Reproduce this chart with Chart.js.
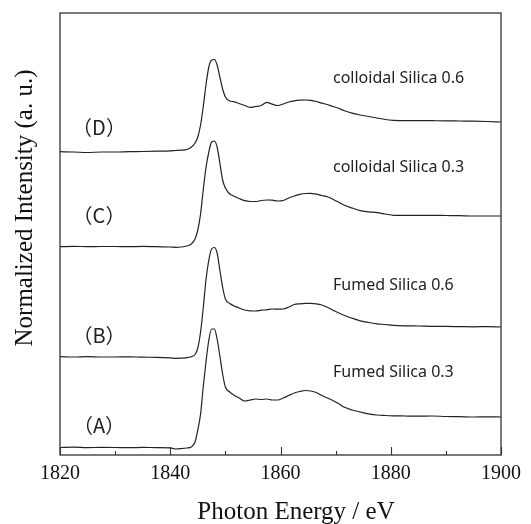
<!DOCTYPE html>
<html>
<head>
<meta charset="utf-8">
<script src="https://cdn.jsdelivr.net/npm/chart.js@4/dist/chart.umd.min.js"></script>
<style>
    body { margin: 0; background: #fff; }
    #wrap { width: 531px; height: 524px; }
</style>
</head>
<body>
<div id="wrap"><canvas id="xanesChart" width="531" height="524"></canvas></div>
<script>
// 光子能量 (eV)
const energy = [1820, 1822.5, 1825, 1827.5, 1830, 1832.5, 1835, 1837.5, 1840,
    1841, 1842, 1843, 1843.8, 1844.5, 1845,
    1845.5, 1846, 1846.5, 1847, 1847.5, 1848, 1848.5, 1849, 1849.5, 1850,
    1850.8, 1851.5, 1852.5, 1853.5, 1854.5, 1855.5, 1856.5, 1857.5, 1858.5, 1859.5,
    1860.5, 1861.5, 1862.5, 1863.5, 1864.5, 1865.5, 1866.5, 1867.5, 1868.5, 1869.5,
    1870.5, 1871.5, 1873, 1874.5, 1876, 1877.5, 1879, 1880.5, 1882.5, 1885,
    1887.5, 1890, 1892.5, 1895, 1897.5, 1900];

// 各样品强度 (已按图中偏移叠放, a.u.)
const fumed03 = [0.75, 0.78, 0.74, 0.76, 0.75, 0.73, 0.76, 0.74, 0.72,
    0.6, 0.64, 0.7, 0.8, 1.3, 2.5,
    4.1, 6.9, 9.4, 11.5, 12.6, 12.6, 11.6, 9.9, 8.1, 6.8,
    6.3, 6.0, 5.7, 5.4, 5.5, 5.6, 5.55, 5.6, 5.5, 5.5,
    5.7, 5.95, 6.2, 6.35, 6.45, 6.4, 6.25, 5.95, 5.7, 5.45,
    5.15, 4.8, 4.5, 4.3, 4.12, 4.0, 3.95, 3.92, 3.9, 3.88,
    3.9, 3.85, 3.83, 3.8, 3.82, 3.8];

const fumed06 = [9.83, 9.8, 9.84, 9.8, 9.8, 9.82, 9.78, 9.77, 9.72,
    9.67, 9.68, 9.74, 9.83, 10.05, 10.7,
    12.3, 14.8, 17.6, 19.5, 20.6, 20.75, 20.2, 18.5, 16.8, 15.6,
    15.15, 14.93, 14.7, 14.5, 14.42, 14.4, 14.48, 14.52, 14.6, 14.58,
    14.6, 14.8, 15.05, 15.12, 15.16, 15.17, 15.12, 15.0, 14.78, 14.48,
    14.22, 13.98, 13.68, 13.42, 13.25, 13.12, 13.05, 12.97, 12.92, 12.9,
    12.87, 12.86, 12.84, 12.82, 12.84, 12.8];

const colloidal03 = [20.83, 20.86, 20.84, 20.85, 20.85, 20.83, 20.86, 20.83, 20.8,
    20.77, 20.8, 20.9, 21.1, 21.6, 22.5,
    24.1, 26.6, 28.8, 30.3, 31.3, 31.4, 30.8, 29.2, 27.5, 26.7,
    26.1, 25.9, 25.65, 25.43, 25.35, 25.35, 25.45, 25.5, 25.48, 25.4,
    25.45, 25.7, 25.9, 26.07, 26.15, 26.17, 26.08, 25.95, 25.82, 25.58,
    25.3, 25.0, 24.7, 24.43, 24.32, 24.23, 24.1, 23.97, 23.97, 23.96,
    23.97, 23.95, 23.93, 23.9, 23.9, 23.9];

const colloidal06 = [30.33, 30.3, 30.25, 30.3, 30.3, 30.33, 30.35, 30.38, 30.42,
    30.45, 30.48, 30.55, 30.77, 31.2, 31.8,
    33.0, 34.9, 37.1, 38.8, 39.5, 39.55, 39.0, 37.8, 36.6, 35.8,
    35.4, 35.33, 35.15, 34.95, 34.77, 34.85, 34.95, 35.27, 35.08, 34.95,
    35.1, 35.3, 35.42, 35.48, 35.5, 35.47, 35.35, 35.18, 35.05, 34.85,
    34.68, 34.45, 34.18, 34.0, 33.85, 33.7, 33.55, 33.47, 33.43, 33.44,
    33.43, 33.42, 33.4, 33.38, 33.35, 33.3];

const seriesNames = ['Fumed Silica 0.3', 'Fumed Silica 0.6', 'colloidal Silica 0.3', 'colloidal Silica 0.6'];
const seriesTags = ['（A）', '（B）', '（C）', '（D）'];
const xTicks = [1820, 1840, 1860, 1880, 1900];

function toPoints(values) {
    return values.map((v, i) => ({ x: energy[i], y: v }));
}

// 图框、内向刻度、注释文字和坐标轴标题
const decorPlugin = {
    id: 'decor',
    afterDraw(chart) {
        const ctx = chart.ctx;
        const area = chart.chartArea;
        const xs = chart.scales.x;
        ctx.save();
        ctx.strokeStyle = '#333';
        ctx.lineWidth = 1.3;
        ctx.strokeRect(area.left, area.top, area.right - area.left, area.bottom - area.top);

        // 主刻度和次刻度
        ctx.lineWidth = 1.1;
        for (let v = 1820; v <= 1900; v += 10) {
            const px = Math.round(xs.getPixelForValue(v)) + 0.5;
            const len = (v % 20 === 0) ? 8 : 4;
            ctx.beginPath();
            ctx.moveTo(px, area.bottom);
            ctx.lineTo(px, area.bottom - len);
            ctx.stroke();
        }

        // 样品标签
        ctx.fillStyle = '#222';
        ctx.font = '16px "Noto Sans"';
        ctx.textAlign = 'left';
        ctx.textBaseline = 'alphabetic';
        const nameY = [377, 290, 172, 83];
        seriesNames.forEach((name, i) => {
            ctx.fillText(name, 333, nameY[i]);
        });

        ctx.font = '20px "Noto Sans CJK JP"';
        ctx.textAlign = 'center';
        ctx.textBaseline = 'middle';
        const tagY = [425, 335, 215, 127];
        seriesTags.forEach((tag, i) => {
            ctx.fillText(tag, 99, tagY[i]);
        });

        // 坐标轴标题
        ctx.fillStyle = '#111';
        ctx.font = '25px "Liberation Serif"';
        ctx.textAlign = 'center';
        ctx.textBaseline = 'alphabetic';
        ctx.fillText('Photon Energy / eV', 296, 519);

        ctx.translate(32, 208);
        ctx.rotate(-Math.PI / 2);
        ctx.fillText('Normalized Intensity (a. u.)', 0, 0);
        ctx.restore();
    }
};

const lineStyle = {
    borderColor: '#222',
    borderWidth: 1.2,
    pointRadius: 0,
    fill: false,
    cubicInterpolationMode: 'monotone'
};

new Chart(document.getElementById('xanesChart').getContext('2d'), {
    type: 'line',
    data: {
        datasets: [
            Object.assign({ label: seriesNames[0], data: toPoints(fumed03) }, lineStyle),
            Object.assign({ label: seriesNames[1], data: toPoints(fumed06) }, lineStyle),
            Object.assign({ label: seriesNames[2], data: toPoints(colloidal03) }, lineStyle),
            Object.assign({ label: seriesNames[3], data: toPoints(colloidal06) }, lineStyle)
        ]
    },
    options: {
        responsive: false,
        animation: false,
        layout: { padding: { left: 60, right: 30, top: 13, bottom: 0 } },
        plugins: {
            legend: { display: false },
            tooltip: { enabled: false }
        },
        scales: {
            x: {
                type: 'linear',
                min: 1820,
                max: 1900,
                afterBuildTicks: (scale) => {
                    scale.ticks = xTicks.map(v => ({ value: v }));
                },
                afterFit: (scale) => { scale.height = 69; },
                grid: { display: false, drawTicks: false },
                border: { display: false },
                ticks: {
                    autoSkip: false,
                    maxRotation: 0,
                    padding: 7,
                    color: '#111',
                    font: { family: 'Liberation Serif', size: 20 },
                    callback: (v) => String(v)
                }
            },
            y: {
                display: false,
                min: 0,
                max: 44.2
            }
        }
    },
    plugins: [decorPlugin]
});
</script>
</body>
</html>
